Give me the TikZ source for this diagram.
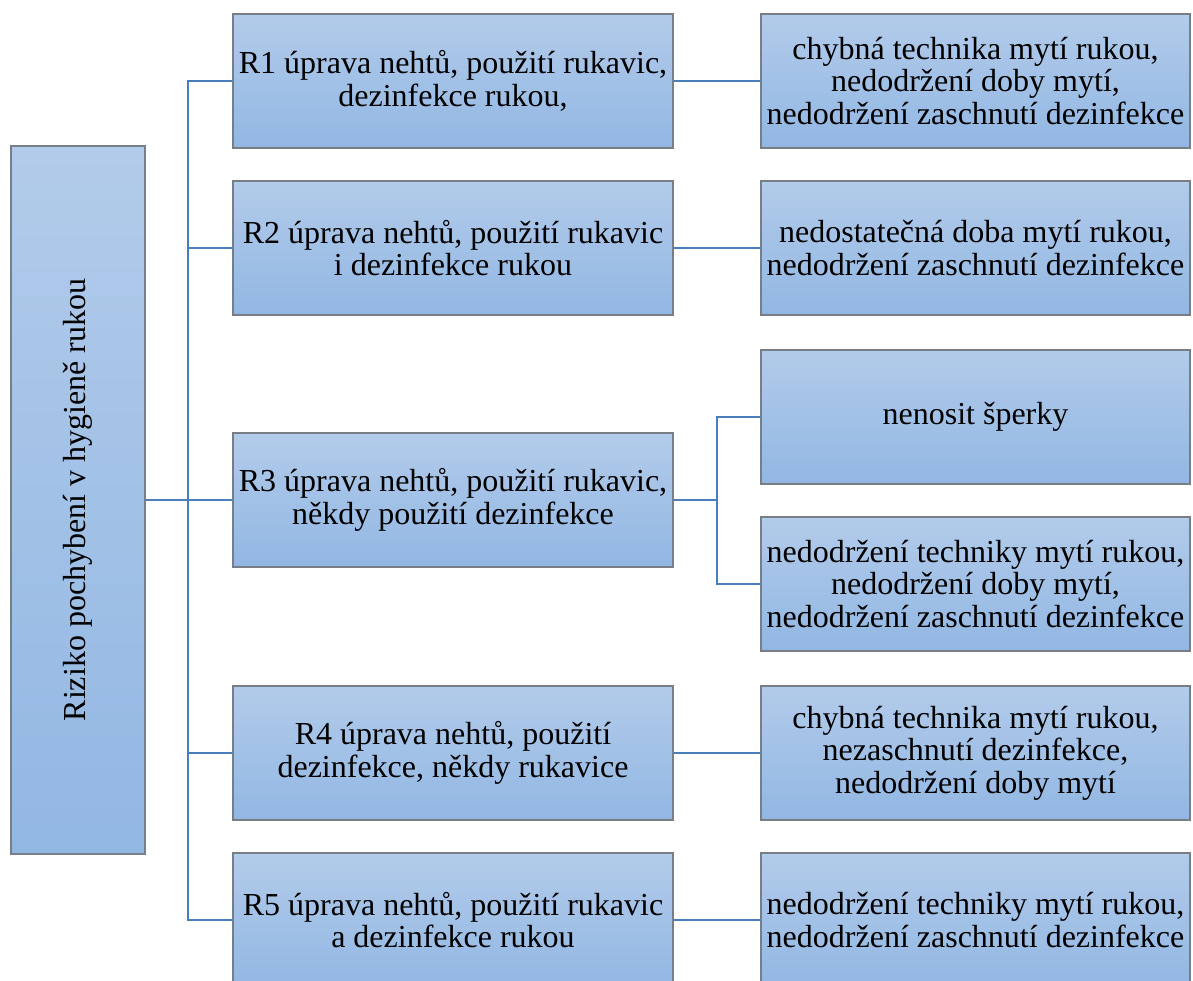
\documentclass[tikz,border=0pt]{standalone}
\usepackage{fontspec}
\setmainfont{Liberation Serif}
\newfontfamily\boxfont{Liberation Serif}
\definecolor{boxtop}{RGB}{178,203,234}
\definecolor{boxbot}{RGB}{146,183,227}
\definecolor{boxline}{RGB}{120,126,134}
\definecolor{link}{RGB}{74,126,187}
\tikzset{
  boxtext/.style={font=\boxfont\fontsize{32}{32.5}\selectfont},
  box/.style={draw=boxline, line width=1.5pt, top color=boxtop, bottom color=boxbot,
    minimum height=134pt, align=center, inner sep=0pt, boxtext},
  midbox/.style={box, minimum width=440pt},
  outbox/.style={box, minimum width=429pt},
  conn/.style={draw=link, line width=2.2pt}
}
\begin{document}
\begin{tikzpicture}[x=1pt, y=-1pt]
\useasboundingbox (0,0) rectangle (1193,980);

% root of the tree
\node[box, minimum width=134pt, minimum height=708pt] (root) at (78,500) {};
\node[rotate=90, boxtext] (roottext) at (root.center) {Riziko pochybení v hygieně rukou};

% middle column
\node[midbox] (r1) at (453,81)  {R1 úprava nehtů, použití rukavic,\\dezinfekce rukou,};
\node[midbox] (r2) at (453,248) {R2 úprava nehtů, použití rukavic\\i dezinfekce rukou};
\node[midbox] (r3) at (453,500) {R3 úprava nehtů, použití rukavic,\\někdy použití dezinfekce};
\node[midbox] (r4) at (453,753) {R4 úprava nehtů, použití\\dezinfekce, někdy rukavice};
\node[midbox] (r5) at (453,920) {R5 úprava nehtů, použití rukavic\\a dezinfekce rukou};

% right column
\node[outbox] (q1)  at (975.5,81)  {chybná technika mytí rukou,\\nedodržení doby mytí,\\nedodržení zaschnutí dezinfekce};
\node[outbox] (q2)  at (975.5,248) {nedostatečná doba mytí rukou,\\nedodržení zaschnutí dezinfekce};
\node[outbox] (q3a) at (975.5,417) {nenosit šperky};
\node[outbox] (q3b) at (975.5,584) {nedodržení techniky mytí rukou,\\nedodržení doby mytí,\\nedodržení zaschnutí dezinfekce};
\node[outbox] (q4)  at (975.5,753) {chybná technika mytí rukou,\\nezaschnutí dezinfekce,\\nedodržení doby mytí};
\node[outbox] (q5)  at (975.5,920) {nedodržení techniky mytí rukou,\\nedodržení zaschnutí dezinfekce};

% bus lines
\coordinate (busA) at (188,0);
\coordinate (busB) at (717,0);

\draw[conn] (root.east) -- (r3.west);
\draw[conn] (r1.west) -- (r1.west -| busA) -- (r5.west -| busA) -- (r5.west);
\draw[conn] (r2.west) -- (r2.west -| busA);
\draw[conn] (r4.west) -- (r4.west -| busA);

\draw[conn] (r1.east) -- (q1.west);
\draw[conn] (r2.east) -- (q2.west);
\draw[conn] (r4.east) -- (q4.west);
\draw[conn] (r5.east) -- (q5.west);
\draw[conn] (r3.east) -- (r3.east -| busB);
\draw[conn] (q3a.west) -- (q3a.west -| busB) -- (q3b.west -| busB) -- (q3b.west);
\end{tikzpicture}
\end{document}
